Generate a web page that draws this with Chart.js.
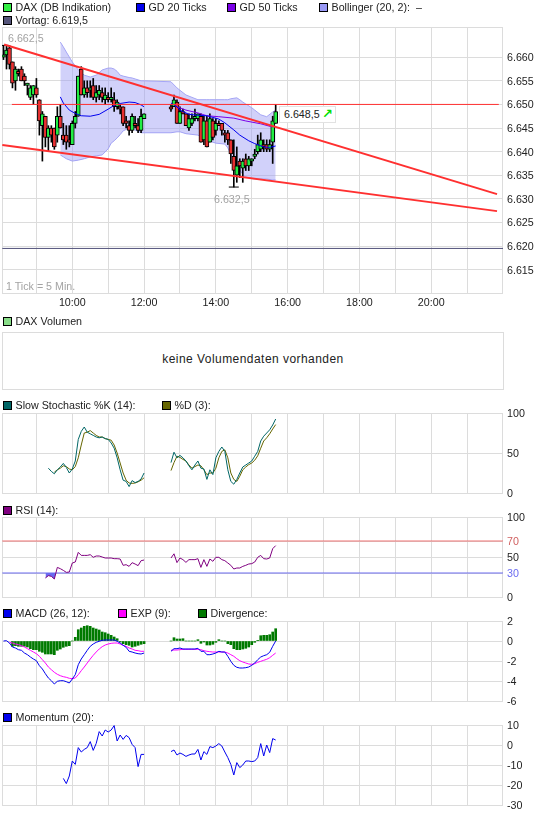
<!DOCTYPE html>
<html>
<head>
<meta charset="utf-8">
<title>DAX</title>
<script src="https://cdn.jsdelivr.net/npm/chart.js@4"></script>
<style>
html, body { margin: 0; padding: 0; background: #fff; overflow: hidden; }
body { position: relative; width: 545px; height: 827px; font: 10.7px "Liberation Sans", Arial, sans-serif; color: #222; }
canvas { position: absolute; left: 0; }
.lg, .sq, .note { position: absolute; white-space: nowrap; }
.lg { line-height: 14px; }
.sq { width: 7px; height: 7px; border: 1px solid #000; }
.note { color: #a3a3a3; line-height: 14px; }
#volumen { position: absolute; left: 2px; top: 332px; width: 500px; height: 56px; border: 1px solid #dcdcdc; text-align: center; line-height: 53px; font-size: 12px; letter-spacing: 0.45px; }
#last { position: absolute; left: 279px; top: 106px; width: 55px; height: 15px; border: 1px solid #e2e2e2; background: #fff; line-height: 15px; }
#last span { position: absolute; left: 4px; }
#last b { position: absolute; left: 42px; top: -1px; color: #00e000; font: bold 13px "DejaVu Sans"; }
</style>
</head>
<body>
<div id="volumen">keine Volumendaten vorhanden</div>
<div id="last"><span>6.648,5</span><b>↗</b></div>
<script>
// 5 Min. Kerzen
const amTimes = ["08:05","08:10","08:15","08:20","08:25","08:30","08:35","08:40","08:45","08:50","08:55","09:00","09:05","09:10","09:15","09:20","09:25","09:30","09:35","09:40","09:45","09:50","09:55","10:00","10:05","10:10","10:15","10:20","10:25","10:30","10:35","10:40","10:45","10:50","10:55","11:00","11:05","11:10","11:15","11:20","11:25","11:30","11:35","11:40","11:45","11:50","11:55","12:00"];
const pmTimes = ["12:45","12:50","12:55","13:00","13:05","13:10","13:15","13:20","13:25","13:30","13:35","13:40","13:45","13:50","13:55","14:00","14:05","14:10","14:15","14:20","14:25","14:30","14:35","14:40","14:45","14:50","14:55","15:00","15:05","15:10","15:15","15:20","15:25","15:30","15:35","15:40"];

const amOpen = [6660,6660.5,6662,6659,6655,6657,6657.5,6656,6654,6651.5,6652,6653.5,6651,6645.5,6647.5,6643,6645,6645,6643.5,6647.5,6643.5,6643.5,6642.5,6641.5,6646,6647.5,6657.5,6652,6653.5,6653,6654,6651.5,6652,6652.5,6651,6651.5,6651,6651,6649.5,6649.5,6649.5,6646.5,6645.5,6644.5,6646,6645.5,6644.5,6647];
const amClose = [6660.5,6661.5,6658.5,6654.5,6657.5,6656.5,6655,6655,6654.5,6653.5,6654,6652,6646.5,6648,6643,6645,6643.5,6641,6647.5,6645,6642.5,6642,6642,6646,6647.5,6656,6652,6653.5,6652.5,6653.5,6651.5,6652.5,6653,6651.5,6652,6651,6651.5,6649.5,6650.5,6649,6646,6646,6644.5,6647.5,6645.5,6644.5,6647.5,6648];
const amHigh = [6662.5,6662.5,6662.5,6659,6658,6657.5,6658,6656.5,6654.5,6654,6654,6655.5,6651,6648.5,6647.5,6645.5,6645.5,6645,6649.5,6650,6646,6645.5,6645.5,6646.5,6648.5,6656,6658,6655,6655,6655,6655.5,6654,6654,6653.5,6653.5,6652.5,6653.5,6652.5,6651,6650,6649.5,6647.5,6646.5,6648,6647.5,6647,6649,6648];
const amLow = [6659.5,6657.5,6657.5,6653.5,6653,6656,6655,6654,6652,6651,6650,6651.5,6643.5,6638,6641,6640,6642,6640.5,6642,6645,6641.5,6640.5,6641,6641.5,6645,6647.5,6652,6651.5,6651.5,6651.5,6651,6650.5,6651,6650.5,6650,6650.5,6650.5,6648.5,6649,6648,6645.5,6645,6643.5,6644,6645,6644,6644,6647];

const pmOpen = [6649.5,6649.5,6650.5,6646,6648.5,6648,6645,6646,6647,6647,6647.5,6642.5,6646.5,6642,6646.5,6644.5,6646,6646,6644,6644,6642.5,6639,6635,6638,6636.5,6638.5,6637,6638,6639,6640,6640.5,6641.5,6641.5,6640.5,6642,6646];
const pmClose = [6649,6651,6646,6648.5,6648,6645.5,6647,6647,6647.5,6648,6642,6646.5,6641,6647,6643,6646,6645.5,6644.5,6643.5,6642.5,6639.5,6636,6637,6637,6638,6637,6638.5,6638.5,6639.5,6641.5,6642.5,6641,6640.5,6641.5,6646.5,6648.5];
const pmHigh = [6650,6652,6651,6649.5,6649,6648,6648,6648,6649,6648,6648,6647.5,6647.5,6648,6647,6647,6646.5,6646,6644.5,6644.5,6642.5,6642.5,6641,6638.5,6638.5,6639.5,6639,6638.5,6640.5,6643.5,6644,6642.5,6642.5,6642.5,6647.5,6650];
const pmLow = [6648.5,6649.5,6646,6646,6648,6645.5,6644.5,6645.5,6646.5,6646.5,6642,6641.5,6641,6642,6642.5,6643.5,6645.5,6643.5,6642,6641.5,6637.5,6632.5,6633.5,6634.5,6633.5,6636,6636,6637,6638.5,6639.5,6640,6640,6640,6640,6637.5,6646];

// Bollinger (20, 2)
const bollTimes = ["09:40","09:45","09:50","10:00","10:10","10:20","10:30","10:40","10:50","11:00","11:05","11:10","11:15","11:20","11:25","11:35","11:40","11:45","11:55","12:00","12:45","12:55","13:00","13:10","13:30","13:45","13:50","14:00","14:15","14:20","14:25","14:35","14:40","14:45","14:50","15:00","15:05","15:15","15:25","15:35","15:40"];
const bollUpper = [6663.2,6662.2,6661.1,6659,6657.3,6656.2,6655.8,6656.2,6657.3,6657.7,6657.7,6657.5,6657,6656.2,6656,6655.7,6655.6,6655.4,6655,6655,6654.8,6653.5,6653,6652,6651,6651,6651,6651,6651,6651,6651.2,6651.4,6651,6650.5,6650.1,6649.3,6648.8,6647.8,6647.4,6648.4,6648.8];
const bollLower = [6639.3,6638.9,6638.5,6638,6638.2,6638.5,6638.9,6639.1,6639.3,6640.6,6641.8,6642.3,6642.9,6643.6,6644.4,6645,6644.8,6644.6,6644,6644,6644,6644.2,6644.2,6643.8,6643.5,6642.5,6642.2,6641.8,6641.6,6640.8,6639.3,6637,6636.1,6635.2,6634.6,6634.3,6634.2,6634.2,6634.2,6634,6634];

// GD 20 / GD 50
const gd20AmTimes = ["09:40","09:45","09:55","10:05","10:15","10:30","10:45","11:00","11:10","11:20","11:35","11:45","11:55","12:00"];
const gd20Am = [6651.6,6650.3,6648.8,6648.1,6647.6,6647.5,6647.9,6649,6649.8,6650.2,6650.5,6650.4,6649.9,6649.5];
const gd20PmTimes = ["12:45","12:55","13:00","13:15","13:30","13:45","14:05","14:15","14:30","14:40","14:55","15:05","15:20","15:30","15:40"];
const gd20Pm = [6650.3,6649.5,6648.8,6647.9,6647.7,6647.6,6646.9,6646.1,6644.6,6643.5,6642.3,6641.7,6641,6640.9,6641.2];
const gd50Times = ["12:50","12:55","13:10","13:30","13:45","14:05","14:30","14:50","15:15","15:35"];
const gd50 = [6649.9,6649.5,6648.8,6648.2,6647.6,6647.4,6647.1,6646.5,6645.9,6645.2];

// Linien im Chart
const upperTrendTimes = ["08:06","21:50"];
const upperTrend = [6662.7,6631];
const lowerTrendTimes = ["08:03","21:50"];
const lowerTrend = [6641.4,6627.4];
const levelTimes = ["08:19","21:53"];
const level = [6650,6650];
const vortagTimes = ["08:03","22:00"];
const vortag = [6619.5,6619.5];
const extremeTimes = ["08:05","14:30"];
const extremes = [6662.5,6632.5];

// Stochastik
const stochKAm = [31,27,24,29,32.5,37,32,25,30,40,67,77,82.5,76,74,72,70,69,70,68,67,62.5,56,44,29,16,14.5,8,15.5,13,14.5,17.5,25];
const stochDAm = [26,29,31,34,33,30,29,33,44,60,75,76,78,75,72,70,70,68,67,66,60,50,37.5,25,16,12.5,12,12.5,14,16,19];
const stochKPm = [38,51,44,47,44,40,34,29,35,40,31,30,17,29,23,44,52,57.5,52,29,14.5,11,17,25,32.5,35,37.5,40,46,52,65,71,75,79,85,92.5];
const stochDPm = [28,38,46,44.5,42,40,35,31,33,35,34,29,23,25,25,31,44,52,54,44,25,17,14.5,21,29,32.5,35.5,37.5,41,46.5,56,65,69,74,80,85.5];

// RSI
const rsiAm = [23.75,26.7,25.8,22.5,37,35.4,33.3,30.8,31.25,42.5,43.75,55.8,52,52,52,52.9,49.6,51.25,51.25,50,48.75,48.75,48.75,47.9,47.9,47.5,39.6,40.4,38.3,42.9,41.25,39.2,45.4,46.25];
const rsiPm = [48.75,54,43,48.75,46.7,43.3,46.7,46.7,46.7,47.9,37,46.7,38.3,47.5,44.6,49.6,49.6,46.7,45.4,42.5,39.6,35,36.25,36.25,38.3,39.6,41.25,41.7,43.75,49.6,52,47.9,47.5,48.75,60.4,64.2];
const rsiLevelTimes = ["08:03","22:00"];
const rsiHigh = [70,70];
const rsiLow = [30,30];

// MACD
const macdAm = [0,0.03,-0.2,-0.6,-0.7,-0.87,-0.93,-1.2,-1.37,-1.6,-1.8,-1.97,-2.47,-2.8,-3.27,-3.7,-3.97,-4.3,-4.03,-3.97,-3.97,-4.07,-4.2,-3.8,-3.37,-2.37,-1.8,-1.37,-0.93,-0.53,-0.3,-0.13,-0.03,0.07,0.1,0.1,0.1,0.1,-0.03,-0.2,-0.43,-0.63,-1.03,-1.1,-1.2,-1.27,-1.3,-1.2];
const expAm = [-0.13,-0.2,-0.3,-0.37,-0.47,-0.6,-0.77,-0.93,-1.1,-1.27,-1.53,-1.87,-2.2,-2.6,-2.87,-3.13,-3.33,-3.47,-3.57,-3.63,-3.73,-3.77,-3.7,-3.37,-2.97,-2.6,-2.2,-1.8,-1.43,-1.1,-0.8,-0.57,-0.4,-0.3,-0.23,-0.2,-0.2,-0.3,-0.43,-0.53,-0.7,-0.8,-0.93,-0.97,-1.03,-1.03];
const divAm = [-0.53,-0.47,-0.53,-0.53,-0.53,-0.6,-0.77,-0.87,-0.87,-1.03,-1.13,-1.3,-1.3,-1.3,-1.37,-0.93,-0.8,-0.63,-0.53,-0.47,0,0.37,1.13,1.3,1.47,1.53,1.47,1.3,1.2,1.1,0.9,0.83,0.7,0.57,0.4,0.23,-0.1,-0.27,-0.37,-0.43,-0.6,-0.53,-0.43,-0.33,-0.27];
const macdPm = [-1.03,-0.77,-0.77,-0.7,-0.8,-0.8,-0.8,-0.8,-0.8,-0.73,-1.03,-1.03,-1.37,-1.37,-1.3,-1.2,-1.03,-1.1,-1.1,-1.53,-2.03,-2.43,-2.63,-2.7,-2.7,-2.67,-2.6,-2.43,-2.2,-1.87,-1.6,-1.47,-1.37,-1.13,-0.53,0];
const expPm = [-0.93,-0.9,-0.9,-0.87,-0.83,-0.83,-0.83,-0.83,-0.83,-0.83,-0.87,-0.97,-1.03,-1.07,-1.1,-1.1,-1.1,-1.1,-1.1,-1.2,-1.37,-1.53,-1.77,-1.97,-2.1,-2.2,-2.3,-2.33,-2.27,-2.13,-2.03,-1.93,-1.83,-1.67,-1.43,-1.2];
const divPm = [0,0.33,0.2,0.2,0.23,0,0,0,0,0.13,-0.23,-0.1,-0.4,-0.4,-0.33,-0.13,0.13,0,0,-0.27,-0.37,-0.77,-0.87,-0.87,-0.8,-0.73,-0.6,-0.37,-0.13,0.07,0.53,0.57,0.57,0.63,0.9,1.23];

// Momentum
const momAm = [-16.7,-19.3,-15.5,-8,-9.7,-1.3,-3.5,-2.2,-1.3,1.7,-2.7,0.8,6.7,4.5,7.5,6.5,7.5,9.7,2,5,2.8,4.8,3.7,0.3,-1.3,-10.8,-4.7,-4.7];
const momPm = [-3.3,-2.5,-5,-4,-4.7,-5.7,-5,-4.5,-4.5,-2.2,-7.5,-3.3,-4.7,-0.8,-1.3,-0.5,0.7,-0.5,-3.5,-6.3,-9.7,-15,-8.8,-11.3,-10,-8,-8,-8.3,-8,-6.3,0.7,-5.5,0,-3.8,3.2,2.5];

// Achsen
const hourTicks = ["09:00","10:00","11:00","12:00","13:00","14:00","15:00","16:00","17:00","18:00","19:00","20:00","21:00"];
const priceTicks = [6615,6620,6625,6630,6635,6640,6645,6650,6655,6660];
const stochTicks = [0,50,100];
const rsiTicks = [0,30,50,70,100];
const macdTicks = [-6,-4,-2,0,2];
const momTicks = [-30,-20,-10,0,10];

const GRID = "#dcdcdc";
const AXIS_FONT = { family: "Liberation Sans", size: 10.7 };

function minutes(hhmm) {
    let p = hhmm.split(":");
    return parseInt(p[0]) * 60 + parseInt(p[1]);
}

// werte sind rechtsbuendig zu den zeiten (indikatoren starten spaeter)
function toPoints(times, values) {
    let off = times.length - values.length;
    return values.map((v, i) => ({ x: minutes(times[i + off]), y: v }));
}

function lineSet(times, values, color, order, width) {
    return {
        type: "line",
        data: toPoints(times, values),
        borderColor: color,
        borderWidth: width || 1,
        pointRadius: 0,
        tension: 0,
        fill: false,
        order: order
    };
}

const framePlugin = {
    id: "frame",
    beforeDatasetsDraw(chart) {
        let a = chart.chartArea, c = chart.ctx;
        c.save();
        c.strokeStyle = GRID;
        c.lineWidth = 1;
        c.strokeRect(Math.round(a.left) + 0.5, Math.round(a.top) + 0.5, Math.round(a.width) - 1, Math.round(a.height));
        c.restore();
    }
};

// keine extra-raender wegen der beschriftung, die flaeche soll exakt sitzen
function noPadding(s) {
    s.paddingLeft = 0;
    s.paddingRight = 0;
    s.paddingTop = 0;
    s.paddingBottom = 0;
}

function panel(top, height, yMin, yMax, yTicks, datasets, extra) {
    extra = extra || {};
    let bottomSpace = extra.showTime ? 22 : 8;
    let cv = document.createElement("canvas");
    cv.width = 545;
    cv.height = height + 8 + bottomSpace;
    cv.style.top = (top - 8) + "px";
    document.body.insertBefore(cv, document.getElementById("last"));

    new Chart(cv, {
        type: "bar",
        data: { datasets: datasets },
        plugins: [framePlugin],
        options: {
            responsive: false,
            animation: false,
            layout: { autoPadding: false, padding: { left: 2, top: 8, right: 0, bottom: 0 } },
            plugins: { legend: { display: false }, tooltip: { enabled: false } },
            scales: {
                x: {
                    type: "linear",
                    offset: false,
                    min: 482.5,
                    max: 1320,
                    border: { display: false },
                    grid: { color: GRID, drawTicks: false, offset: false },
                    afterBuildTicks: s => { s.ticks = hourTicks.map(h => ({ value: minutes(h) })); },
                    afterFit: s => { s.height = bottomSpace; noPadding(s); },
                    ticks: {
                        display: !!extra.showTime,
                        autoSkip: false,
                        maxRotation: 0,
                        padding: 4,
                        color: "#222",
                        font: AXIS_FONT,
                        callback: function (v) {
                            let h = Math.round(v / 60);
                            return h % 2 === 0 ? h + ":00" : "";
                        }
                    }
                },
                y: {
                    position: "right",
                    min: yMin,
                    max: yMax,
                    border: { display: false },
                    grid: { color: GRID, drawTicks: false },
                    afterBuildTicks: s => { s.ticks = yTicks.map(v => ({ value: v })); },
                    afterFit: s => { s.width = 42; noPadding(s); },
                    ticks: {
                        autoSkip: false,
                        padding: 4,
                        labelOffset: 1,
                        font: AXIS_FONT,
                        color: extra.tickColor || "#222",
                        callback: extra.tickLabel || (v => String(v))
                    }
                }
            }
        }
    });
}

const candleTimes = amTimes.concat(pmTimes);
const opens = amOpen.concat(pmOpen);
const closes = amClose.concat(pmClose);
const highs = amHigh.concat(pmHigh);
const lows = amLow.concat(pmLow);

let wicks = candleTimes.map((t, i) => ({ x: minutes(t), y: [lows[i], highs[i]] }));
let bodies = candleTimes.map((t, i) => ({ x: minutes(t), y: [opens[i], closes[i]] }));
let bodyColors = opens.map((o, i) => closes[i] >= o ? "#22ee44" : "#e83030");

let bandUpper = lineSet(bollTimes, bollUpper, "#a5a5f5", 10);
bandUpper.fill = { target: "+1", above: "rgba(153,153,245,0.45)", below: "rgba(153,153,245,0.45)" };
let bandLower = lineSet(bollTimes, bollLower, "#a5a5f5", 10);

let extremeMarks = lineSet(extremeTimes, extremes, "#000", 5);
extremeMarks.showLine = false;
extremeMarks.pointStyle = "line";
extremeMarks.pointRadius = 5;
extremeMarks.pointBorderWidth = 1;
extremeMarks.pointBorderColor = "#000";

panel(27, 266, 6610.06, 6666.4, priceTicks, [
    bandUpper,
    bandLower,
    { data: wicks, backgroundColor: "#000", barThickness: 1, grouped: false, order: 7 },
    { data: bodies, backgroundColor: bodyColors, borderColor: "#000", borderWidth: 1, borderSkipped: false, barThickness: 4, grouped: false, order: 6 },
    extremeMarks,
    lineSet(gd20AmTimes, gd20Am, "#0000ee", 4),
    lineSet(gd20PmTimes, gd20Pm, "#0000ee", 4),
    lineSet(gd50Times, gd50, "#7a00e8", 4),
    lineSet(vortagTimes, vortag, "#50507a", 4),
    lineSet(levelTimes, level, "#ff3030", 3),
    lineSet(upperTrendTimes, upperTrend, "#ff3030", 2, 2),
    lineSet(lowerTrendTimes, lowerTrend, "#ff3030", 2, 2)
], {
    showTime: true,
    tickLabel: v => "6." + String(v).slice(1)
});

panel(413, 80, 0, 100, stochTicks, [
    lineSet(amTimes, stochDAm, "#666600", 2),
    lineSet(amTimes, stochKAm, "#006666", 1),
    lineSet(pmTimes, stochDPm, "#666600", 2),
    lineSet(pmTimes, stochKPm, "#006666", 1)
]);

let rsiAmSet = lineSet(amTimes, rsiAm, "#800080", 1);
rsiAmSet.fill = { target: { value: 30 }, above: "rgba(0,0,0,0)", below: "#6a6af0" };

panel(517, 80, 0, 100, rsiTicks, [
    lineSet(rsiLevelTimes, rsiHigh, "#ee7070", 3),
    lineSet(rsiLevelTimes, rsiLow, "#6a6af0", 3),
    rsiAmSet,
    lineSet(pmTimes, rsiPm, "#800080", 1)
], {
    tickColor: c => c.tick.value === 70 ? "#d06060" : c.tick.value === 30 ? "#6a6af0" : "#222"
});

panel(621, 80, -6, 2, macdTicks, [
    { data: toPoints(amTimes, divAm), backgroundColor: "#007a00", barThickness: 2, grouped: false, order: 5 },
    { data: toPoints(pmTimes, divPm), backgroundColor: "#007a00", barThickness: 2, grouped: false, order: 5 },
    lineSet(amTimes, expAm, "#ff00ff", 2),
    lineSet(pmTimes, expPm, "#ff00ff", 2),
    lineSet(amTimes, macdAm, "#0000ee", 1),
    lineSet(pmTimes, macdPm, "#0000ee", 1)
]);

panel(725, 80, -30, 10, momTicks, [
    lineSet(amTimes, momAm, "#0000ee", 1),
    lineSet(pmTimes, momPm, "#0000ee", 1)
]);

// legenden + beschriftungen
const legendLabels = ["DAX (DB Indikation)", "GD 20 Ticks", "GD 50 Ticks", "Bollinger (20, 2):", "Vortag: 6.619,5", "DAX Volumen", "Slow Stochastic %K (14):", "%D (3):", "RSI (14):", "MACD (26, 12):", "EXP (9):", "Divergence:", "Momentum (20):"];
const legendColors = ["#33ee44", "#0000ee", "#7a00e8", "#9999f5", "#55557a", "#88dd88", "#006666", "#666600", "#800080", "#0000ee", "#ff00ff", "#007a00", "#0000ee"];
const legendX = [3, 136, 227, 319, 3, 3, 3, 162, 3, 3, 118, 198, 3];
const legendY = [6.5, 6.5, 6.5, 6.5, 19.5, 321, 405, 405, 509.5, 613, 613, 613, 717];

legendLabels.forEach((txt, i) => {
    let sq = document.createElement("div");
    sq.className = "sq";
    sq.style.left = legendX[i] + "px";
    sq.style.top = Math.round(legendY[i] - 4) + "px";
    sq.style.background = legendColors[i];
    document.body.appendChild(sq);

    let el = document.createElement("div");
    el.className = "lg";
    el.textContent = txt;
    el.style.left = (legendX[i] + 12.5) + "px";
    el.style.top = (legendY[i] - 7) + "px";
    document.body.appendChild(el);
});

const noteLabels = ["–", "6.662,5", "6.632,5", "1 Tick = 5 Min."];
const noteX = [416, 8, 214, 6];
const noteY = [0, 31, 192, 279];
noteLabels.forEach((txt, i) => {
    let el = document.createElement("div");
    el.className = "note";
    el.textContent = txt;
    el.style.left = noteX[i] + "px";
    el.style.top = noteY[i] + "px";
    if (i === 0) el.style.color = "#222";
    document.body.appendChild(el);
});
</script>
</body>
</html>
